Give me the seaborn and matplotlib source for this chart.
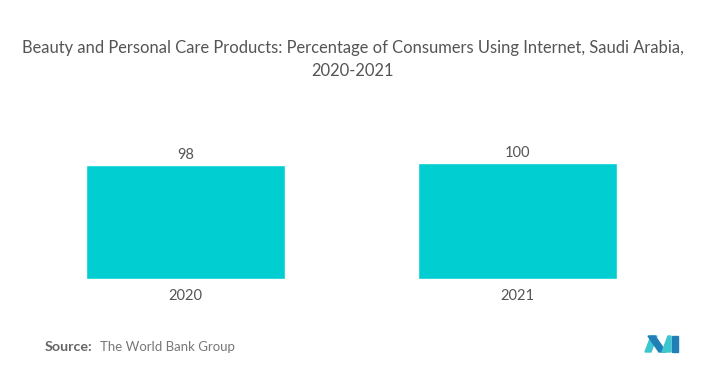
import pandas as pd
import matplotlib
matplotlib.use("Agg")
import matplotlib.pyplot as plt
from matplotlib.patches import Polygon
import seaborn as sns

# data
years = ["2020", "2021"]
values = [98, 100]

df = pd.DataFrame({"year": years, "value": values})

sns.set_style("white")
plt.rcParams["font.family"] = ["Lato", "DejaVu Sans"]

fig = plt.figure(figsize=(7.05, 3.84), dpi=100)
ax = fig.add_axes([0.0277, 0.2734, 0.9418, 0.3323])

sns.barplot(data=df, x="year", y="value", color="#00CED1", width=0.6,
            saturation=1, ax=ax)
ax.set_xlim(-0.5, 1.5)
ax.set_ylim(0, 110)

for i, v in enumerate(values):
    ax.text(i, v + 3, str(v), ha="center", va="bottom", fontsize=10.5, color="#555555")

ax.set_xlabel("")
ax.set_ylabel("")
ax.set_yticks([])
ax.tick_params(axis="x", length=0, labelsize=10.5, labelcolor="#555555", pad=7)
sns.despine(ax=ax, left=True, bottom=True)

fig.text(0.5, 0.895, "Beauty and Personal Care Products: Percentage of Consumers Using Internet, Saudi Arabia,\n2020-2021",
         ha="center", va="top", fontsize=11.9, color="#555555", linespacing=1.55)

fig.text(0.064, 0.096, "Source:", ha="left", va="center", fontsize=10.3,
         color="#666666", fontweight="bold")
fig.text(0.142, 0.096, "The World Bank Group", ha="left", va="center",
         fontsize=9.5, color="#777777")

# logo
W, H = 705, 384
def P(pts, c):
    fig.patches.append(Polygon([(x / W, 1 - y / H) for x, y in pts], closed=True,
                               transform=fig.transFigure, color=c))
P([(645, 352), (651, 336), (657, 336), (651, 352)], "#3cc6cf")
P([(648, 336), (655, 336), (666, 352), (659, 352)], "#1f7fb6")
P([(662, 352), (668, 336), (671, 336), (671, 352)], "#3cc6cf")
P([(672, 336), (678, 336), (678, 352), (672, 352)], "#1f7fb6")

fig.savefig("out.png", dpi=100)
